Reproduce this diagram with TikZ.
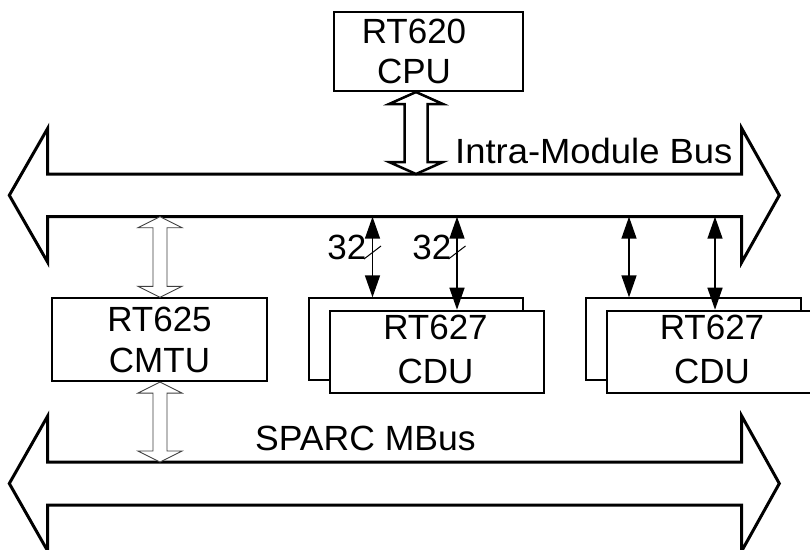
\documentclass[tikz,border=0pt]{standalone}
\usepackage{fontspec}
\setmainfont{Liberation Sans}
\usetikzlibrary{arrows.meta,calc}
\tikzset{
  bus/.style={draw=black,line width=3pt,line join=miter,fill=white},
  box/.style={draw=black,line width=2pt,fill=white,inner sep=0pt},
  txt/.style={inner sep=0pt,align=center},
  lbl/.style={inner sep=0pt,font=\fontsize{35}{40}\selectfont},
  sig/.style={line width=1.5pt,{Triangle[length=22pt,width=15pt]}-{Triangle[length=22pt,width=15pt]}},
  bighollow/.style={draw=black,line width=2.5pt,fill=white,line join=miter},
  smallhollow/.style={draw=black!75,line width=0.9pt,fill=white,line join=miter},
}
\newcommand{\hollowdbl}[6]{%
  \draw[#1] let \p1=(#2), \p2=(#3) in
    (\x1,\y1) -- (\x1+#4pt,\y1-#6pt) -- (\x1+#5pt,\y1-#6pt) -- (\x1+#5pt,\y2+#6pt)
    -- (\x1+#4pt,\y2+#6pt) -- (\x1,\y2) -- (\x1-#4pt,\y2+#6pt) -- (\x1-#5pt,\y2+#6pt)
    -- (\x1-#5pt,\y1-#6pt) -- (\x1-#4pt,\y1-#6pt) -- cycle;}
\begin{document}
\begin{tikzpicture}[x=1pt,y=-1pt]
\clip (0,0) rectangle (810,549);
\fill[white] (0,0) rectangle (810,549);

% Intra-Module Bus
\draw[bus] (47.7,174) -- (741.7,174) -- (741.7,128.3) -- (779.3,195.3) -- (741.7,262.3)
  -- (741.7,216.7) -- (47.7,216.7) -- (47.7,262.3) -- (9.3,195.3) -- (47.7,128.3) -- cycle;
% SPARC MBus
\draw[bus] (47.7,462) -- (741.7,462) -- (741.7,416) -- (779.3,483.5) -- (741.7,551)
  -- (741.7,505) -- (47.7,505) -- (47.7,551) -- (9.3,483.5) -- (47.7,416) -- cycle;

\node[lbl,anchor=base west,xscale=1.04,transform shape] (ibus) at (455,163.5) {Intra-Module Bus};
\node[lbl,anchor=base west,xscale=1.015,transform shape] (mbus) at (255,450) {SPARC MBus};

% boxes
\node[box,minimum width=189pt,minimum height=79.5pt] (cpu) at (428,51.3) {};
\node[box,minimum width=214.5pt,minimum height=82.7pt] (cmtu) at (159.5,339.7) {};
\node[box,minimum width=213.5pt,minimum height=81.7pt] (cdua) at (415.8,339.2) {};
\node[box,minimum width=214pt,minimum height=81.8pt] (cdub) at (437,351.6) {};
\node[box,minimum width=214.5pt,minimum height=81.7pt] (cduc) at (693.3,339.2) {};
\node[box,minimum width=214pt,minimum height=81.8pt] (cdud) at (714,351.6) {};

% box texts
\node[txt,font=\fontsize{35}{40}\selectfont] (cput) at (414,51) {RT620\\CPU};
\node[txt,font=\fontsize{35}{41}\selectfont] (cmtut) at (159.5,340) {RT625\\CMTU};
\node[txt,font=\fontsize{35}{44}\selectfont] (cdubt) at (435.5,349.5) {RT627\\CDU};
\node[txt,font=\fontsize{35}{44}\selectfont] (cdudt) at (712,349.5) {RT627\\CDU};

% bus attachment points
\coordinate (itop) at (416,174);
\coordinate (icm) at (160,216.7);
\coordinate (mcm) at (160,462);
\coordinate (ia) at (372.5,216.7);
\coordinate (ib) at (457,216.7);
\coordinate (ic) at (629,216.7);
\coordinate (id) at (715,216.7);

% hollow arrows
\hollowdbl{bighollow}{cpu.south -| itop}{itop}{27}{11.5}{12}
\hollowdbl{smallhollow}{icm}{cmtu.north -| icm}{22}{7}{11}
\hollowdbl{smallhollow}{cmtu.south -| mcm}{mcm}{22}{7}{11}

% signal arrows
\draw[sig] (ia) -- (ia |- cdua.north);
\draw[sig] (ib) -- (ib |- cdub.north);
\draw[sig] (ic) -- (ic |- cduc.north);
\draw[sig] (id) -- (id |- cdud.north);

% bus width marks
\coordinate (sa) at (372.5,252.5);
\coordinate (sb) at (457,252.5);
\draw[line width=1pt] ([shift={(-8.5,6.5)}]sa) -- ([shift={(8.5,-6.5)}]sa);
\draw[line width=1pt] ([shift={(-8.5,6.5)}]sb) -- ([shift={(8.5,-6.5)}]sb);
\node[lbl,anchor=base east] (wa) at (366.5,259.5) {32};
\node[lbl,anchor=base east] (wb) at (451.5,259.5) {32};
\end{tikzpicture}
\end{document}
